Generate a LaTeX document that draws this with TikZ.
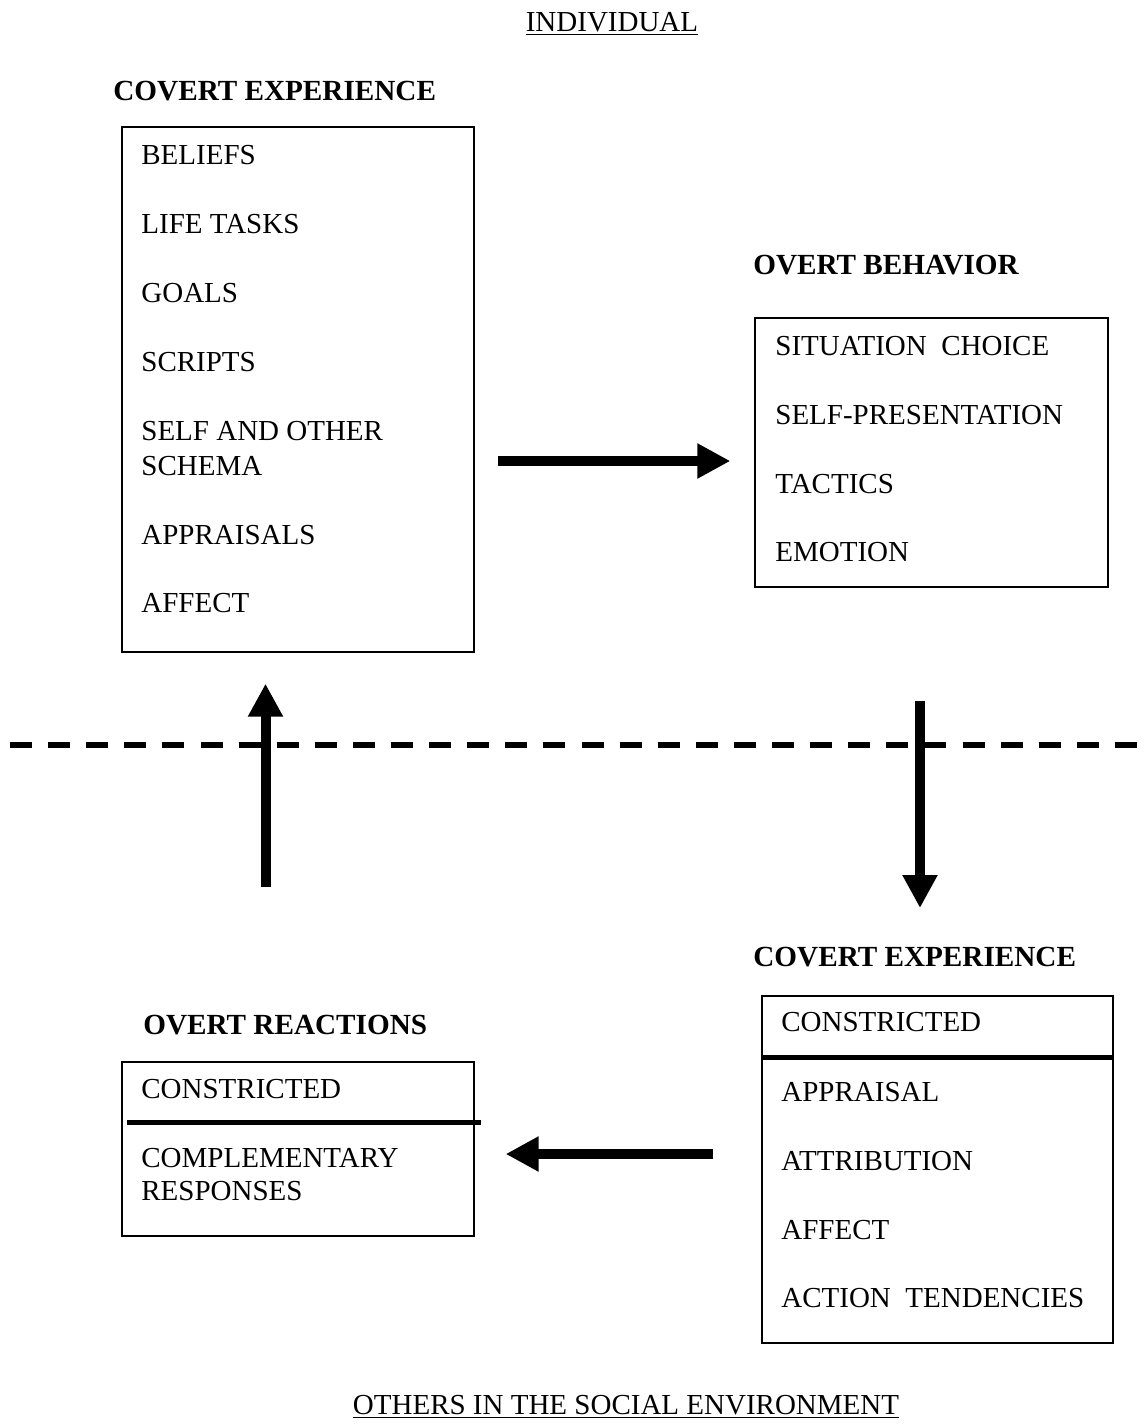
\documentclass[tikz,border=0pt]{standalone}
\usepackage{fontspec}
\setmainfont{Liberation Serif}
\usetikzlibrary{
    arrows.meta,
    calc,
    positioning
}

\tikzset{
    box/.style={draw, line width=0.65pt, inner sep=0pt},
    item/.style={anchor=base west, inner sep=0pt, align=left,
        font=\fontsize{14.5}{17.5}\selectfont},
    title/.style={anchor=base west, inner sep=0pt,
        font=\fontsize{14.6}{17.5}\selectfont\bfseries},
    side/.style={anchor=base, inner sep=0pt,
        font=\fontsize{14.5}{17.5}\selectfont},
    bigarrow/.style={line width=5pt,
        -{Triangle[length=16.5pt, width=16.5pt]}},
    sepline/.style={line width=2.5pt}
}

\begin{document}
\begin{tikzpicture}[x=0.5pt, y=-0.5pt]
                        \useasboundingbox (0, 0) rectangle (1144, 1426);

                        \node[side] (ind) at (612, 31.5) {\underline{INDIVIDUAL}};
                        \node[side] (soc) at (626, 1414.5) {\underline{OTHERS IN THE SOCIAL ENVIRONMENT}};

                        % individual side
                        \node[title] (tce) at (113, 100.5) {COVERT EXPERIENCE};
                        \node[box, minimum width=176pt, minimum height=262.5pt] (ce) at (298, 389.5) {};
                        \node[item] (bel) at (141, 164.5) {BELIEFS};
                        \node[item] (lt) at (141, 233.5) {LIFE TASKS};
                        \node[item] (gl) at (141, 302.5) {GOALS};
                        \node[item] (scr) at (141, 371.5) {SCRIPTS};
                        \node[item] (sos) at (141, 475.5) {SELF AND OTHER\\SCHEMA};
                        \node[item] (apps) at (141, 544.5) {APPRAISALS};
                        \node[item] (aff) at (141, 612.5) {AFFECT};

                        \node[title] (tob) at (753, 274.5) {OVERT BEHAVIOR};
                        \node[box, minimum width=176.5pt, minimum height=134.5pt] (ob) at (931.5, 452.5) {};
                        \node[item] (sc) at (775, 355.5) {SITUATION\ \ CHOICE};
                        \node[item] (sp) at (775, 424.5) {SELF-PRESENTATION};
                        \node[item] (tac) at (775, 493.5) {TACTICS};
                        \node[item] (emo) at (775, 561.5) {EMOTION};

                        % others side
                        \node[title] (tce2) at (753, 966.5) {COVERT EXPERIENCE};
                        \node[box, minimum width=175.5pt, minimum height=173.5pt] (ce2) at (937.5, 1169.5) {};
                        \node[item] (con2) at (781, 1031.5) {CONSTRICTED};
                        \node[item] (app) at (781, 1101.5) {APPRAISAL};
                        \node[item] (att) at (781, 1170.5) {ATTRIBUTION};
                        \node[item] (aff2) at (781, 1239.5) {AFFECT};
                        \node[item] (act) at (781, 1307.5) {ACTION\ \ TENDENCIES};

                        \node[title] (tor) at (143, 1034.5) {OVERT REACTIONS};
                        \node[box, minimum width=176pt, minimum height=87pt] (or) at (298, 1149) {};
                        \node[item] (con) at (141, 1098.5) {CONSTRICTED};
                        \node[item] (comp) at (141, 1200.5) {COMPLEMENTARY\\[-1pt]RESPONSES};

                        \coordinate (cut2) at (0, 1057);
                        \coordinate (cut) at (0, 1122);
                        \coordinate (mid) at (10, 745);
                        \coordinate (uptail) at (265.5, 887);
                        \coordinate (downtip) at (920, 908);
                        \coordinate (rarrow) at (0, 461);
                        \coordinate (larrow) at (0, 1154);

                        \draw[sepline] (ce2.west |- cut2) -- (ce2.east |- cut2);
                        \draw[sepline] ($(or.west |- cut) + (6, 0)$) -- ($(or.east |- cut) + (6, 0)$);

                        \draw[line width=3pt, dash pattern=on 11pt off 8.05pt]
                        (mid) -- ++(1128, 0);

                        \draw[bigarrow, shorten <=11.5pt, shorten >=12pt]
                        (ce.east |- rarrow) -- (ob.west |- rarrow);
                        \draw[bigarrow, shorten >=15.5pt] (uptail) -- (uptail |- ce.south);
                        \draw[bigarrow, shorten <=56.5pt] (ob.south -| downtip) -- (downtip);
                        \draw[bigarrow, shorten <=24pt, shorten >=15.5pt]
                        (ce2.west |- larrow) -- (or.east |- larrow);
                    \end{tikzpicture}
\end{document}
